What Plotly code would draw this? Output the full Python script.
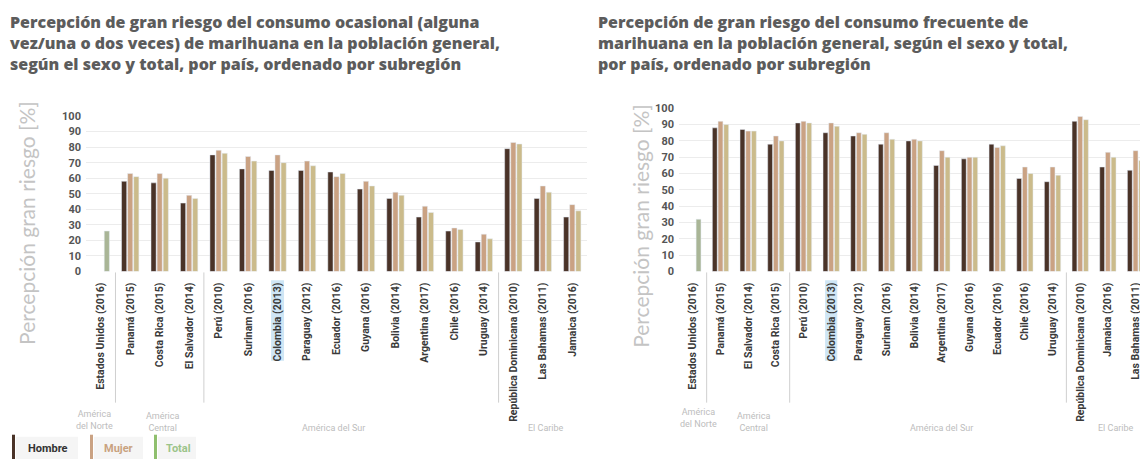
import plotly.graph_objects as go

# page is 1148x466; the html body adds an 8px margin, so the figure is 1140x458
OFF = 8
W, H = 1148 - OFF, 466 - OFF

# ---------------- data ----------------
paises_ocasional = ["Estados Unidos (2016)", "Panamá (2015)", "Costa Rica (2015)", "El Salvador (2014)",
                    "Perú (2010)", "Surinam (2016)", "Colombia (2013)", "Paraguay (2012)", "Ecuador (2016)",
                    "Guyana (2016)", "Bolivia (2014)", "Argentina (2017)", "Chile (2016)", "Uruguay (2014)",
                    "República Dominicana (2010)", "Las Bahamas (2011)", "Jamaica (2016)"]
hombre_ocasional = [None, 58, 57, 44, 75, 66, 65, 65, 64, 53, 47, 35, 26, 19, 79, 47, 35]
mujer_ocasional = [None, 63, 63, 49, 78, 74, 75, 71, 61, 58, 51, 42, 28, 24, 83, 55, 43]
total_ocasional = [26, 61, 60, 47, 76, 71, 70, 68, 63, 55, 49, 38, 27, 21, 82, 51, 39]

paises_frecuente = ["Estados Unidos (2016)", "Panamá (2015)", "El Salvador (2014)", "Costa Rica (2015)",
                    "Perú (2010)", "Colombia (2013)", "Paraguay (2012)", "Surinam (2016)", "Bolivia (2014)",
                    "Argentina (2017)", "Guyana (2016)", "Ecuador (2016)", "Chile (2016)", "Uruguay (2014)",
                    "República Dominicana (2010)", "Jamaica (2016)", "Las Bahamas (2011)"]
hombre_frecuente = [None, 88, 87, 78, 91, 85, 83, 78, 80, 65, 69, 78, 57, 55, 92, 64, 62]
mujer_frecuente = [None, 92, 86, 83, 92, 91, 85, 85, 81, 74, 70, 76, 64, 64, 95, 73, 74]
total_frecuente = [32, 90, 86, 80, 91, 89, 84, 81, 80, 70, 70, 77, 60, 59, 93, 70, 68]

subregiones = ["América<br>del Norte", "América<br>Central", "América del Sur", "El Caribe"]
y_ticks = [0, 10, 20, 30, 40, 50, 60, 70, 80, 90, 100]

titulo_ocasional = ["Percepción de gran riesgo del consumo ocasional (alguna",
                    "vez/una o dos veces) de marihuana en la población general,",
                    "según el sexo y total, por país, ordenado por subregión"]
titulo_frecuente = ["Percepción de gran riesgo del consumo frecuente de",
                    "marihuana en la población general, según el sexo y total,",
                    "por país, ordenado por subregión"]

C_H = "#4a3328"
C_M = "#caa283"
C_T = "#cbbb8b"
C_T_US = "#a9b596"


def px_x(p):
    return (p - OFF) / W


def px_y(p):
    return (H - (p - OFF)) / H


fig = go.Figure()


def add_panel(cats, h, m, t, xa, ya):
    tcolors = [C_T_US if hv is None else C_T for hv in h]
    fig.add_trace(go.Bar(x=cats, y=h, name="Hombre", marker_color=C_H, xaxis=xa, yaxis=ya,
                         showlegend=False, offsetgroup="h"))
    fig.add_trace(go.Bar(x=cats, y=m, name="Mujer", marker_color=C_M, xaxis=xa, yaxis=ya,
                         showlegend=False, offsetgroup="m"))
    fig.add_trace(go.Bar(x=cats, y=t, name="Total", marker_color=tcolors, xaxis=xa, yaxis=ya,
                         showlegend=False, offsetgroup="t"))


add_panel(paises_ocasional, hombre_ocasional, mujer_ocasional, total_ocasional, "x", "y")
add_panel(paises_frecuente, hombre_frecuente, mujer_frecuente, total_frecuente, "x2", "y2")

xcommon = dict(type="category", tickangle=-90, showgrid=False, zeroline=False, showline=False,
               ticks="", tickfont=dict(family="Roboto", size=10.5, color="#3a3a3a", weight="bold"),
               ticklabelstandoff=8)
ycommon = dict(range=[0, 100], tickvals=y_ticks, showgrid=True, gridcolor="#ececec", gridwidth=1,
               zeroline=False, showline=False, ticks="", ticklabelstandoff=4,
               tickfont=dict(family="Roboto", size=11, color="#555555", weight="bold"))

fig.update_layout(
    width=W, height=H,
    margin=dict(l=0, r=0, t=0, b=0),
    paper_bgcolor="white", plot_bgcolor="white",
    barmode="group", bargap=0.38, bargroupgap=0.15,
    xaxis=dict(domain=[px_x(86), px_x(587)], range=[-0.5, 16.5], anchor="y", **xcommon),
    yaxis=dict(domain=[px_y(273), px_y(113)], anchor="x", **ycommon),
    xaxis2=dict(domain=[px_x(679), 1.0], range=[-0.5, 16.45], anchor="y2", **xcommon),
    yaxis2=dict(domain=[px_y(273), px_y(105)], anchor="x2", **ycommon),
    font=dict(family="Roboto"),
)

shapes = []
annotations = []

# titles
for lines, x0 in [(titulo_ocasional, 8), (titulo_frecuente, 596)]:
    annotations.append(dict(xref="paper", yref="paper", x=px_x(x0), y=px_y(38),
                            xanchor="left", yanchor="middle", align="left", showarrow=False,
                            text="<br>".join(lines),
                            font=dict(family="Open Sans", size=16, color="#5c5c5c", weight=800)))

# y-axis titles
for xc, yc in [(27, 223), (641, 226)]:
    annotations.append(dict(xref="paper", yref="paper", x=px_x(xc), y=px_y(yc), textangle=-90,
                            xanchor="center", yanchor="middle",
                            showarrow=False, text="Percepción gran riesgo [%]",
                            font=dict(family="Lato", size=21, color="#c4c4c4")))

# separators between subregions and subregion labels
for xa, seps, labpos in [("x", [0.5, 3.5, 13.5], [(-0.2, 426), (2.1, 428), (7.9, 434), (15.1, 434)]),
                         ("x2", [0.5, 3.5, 13.5], [(0.2, 424), (2.2, 428), (9.0, 434), (15.3, 434)])]:
    for s in seps:
        shapes.append(dict(type="line", xref=xa, yref="paper", x0=s, x1=s,
                           y0=px_y(274), y1=px_y(408), line=dict(color="#cfcfcf", width=1)))
    for name, (px_, py_) in zip(subregiones, labpos):
        annotations.append(dict(xref=xa, yref="paper", x=px_, y=px_y(py_), showarrow=False,
                                xanchor="center", yanchor="middle",
                                text=name, font=dict(family="Roboto", size=9, color="#bdbdbd")))

# Colombia highlight behind tick label
for xa, idx in [("x", paises_ocasional.index("Colombia (2013)")),
                ("x2", paises_frecuente.index("Colombia (2013)"))]:
    shapes.append(dict(type="rect", xref=xa, yref="paper", x0=idx - 0.22, x1=idx + 0.22,
                       y0=px_y(365), y1=px_y(282), fillcolor="#cfe6f5", line=dict(width=0),
                       layer="below"))

# custom legend
legend_items = [("Hombre", C_H, "#333333", 12, 26, 78), ("Mujer", C_M, "#c9a27f", 90, 102, 143),
                ("Total", "#8fbf6e", "#9cc48a", 154, 164, 196)]
for label, bar_c, txt_c, bx, tx, ex in legend_items:
    shapes.append(dict(type="rect", xref="paper", yref="paper", x0=px_x(bx + 4), x1=px_x(ex),
                       y0=px_y(466), y1=px_y(443), fillcolor="#f5f5f5", line=dict(width=0)))
    shapes.append(dict(type="rect", xref="paper", yref="paper", x0=px_x(bx), x1=px_x(bx + 3),
                       y0=px_y(466), y1=px_y(441), fillcolor=bar_c, line=dict(width=0)))
    annotations.append(dict(xref="paper", yref="paper", x=px_x(tx), y=px_y(455), xanchor="left",
                            yanchor="middle", showarrow=False, text=label,
                            font=dict(family="Roboto", size=11, color=txt_c, weight="bold")))

fig.update_layout(shapes=shapes, annotations=annotations)
fig.write_html("out.html")
